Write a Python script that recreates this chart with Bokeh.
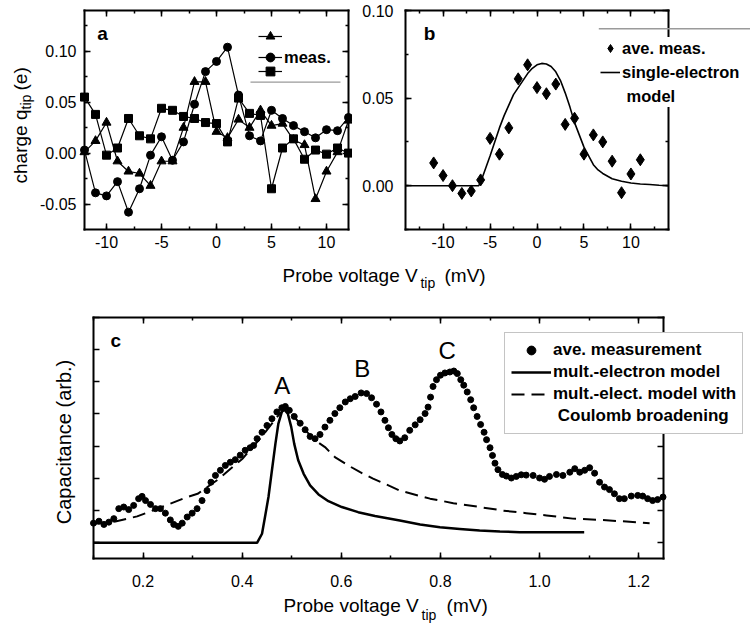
from bokeh.plotting import figure
from bokeh.models import (Range1d, LinearAxis, SingleIntervalTicker, NumeralTickFormatter,
                          CustomJSTickFormatter, Label, Legend, LegendItem)
from bokeh.layouts import row, column
from bokeh.embed import file_html
from bokeh.resources import INLINE
from bokeh.core.properties import value

FONT = "Liberation Sans"

# ---------------- data: panel a ----------------
a_x = list(range(-12, 13))
a_tri = [0.001, 0.012, 0.030, -0.008, -0.018, -0.020, -0.032, -0.008, -0.008, 0.025, 0.070, 0.070,
         0.021, 0.015, 0.033, 0.025, 0.042, 0.027, 0.029, 0.013, 0.008, -0.045, -0.018, 0.001, 0.032]
a_circ = [0.003, -0.039, -0.042, -0.028, -0.058, -0.035, -0.002, 0.016, -0.007, 0.011, 0.048, 0.080,
          0.090, 0.104, 0.057, 0.017, 0.012, 0.042, 0.034, 0.027, 0.021, 0.015, 0.023, 0.022, 0.035]
a_sq = [0.055, 0.038, -0.002, 0.005, 0.034, 0.017, 0.014, 0.044, 0.042, 0.036, 0.034, 0.030,
        0.029, 0.011, 0.054, 0.039, 0.037, -0.035, 0.005, 0.014, -0.006, 0.003, -0.001, 0.005, 0.000]

# ---------------- data: panel b ----------------
b_x = list(range(-11, 12))
b_meas = [0.013, 0.0058, 0.000, -0.0044, -0.003, 0.0033, 0.027, 0.018, 0.033, 0.061, 0.069, 0.056,
          0.0525, 0.058, 0.035, 0.0385, 0.018, 0.029, 0.025, 0.014, -0.004, 0.0067, 0.0148]
b_model_x = [-14, -6.2, -5.8, -5.4, -5.0, -4.5, -4.0, -3.5, -3.0, -2.5, -2.0, -1.5, -1.0, -0.5, 0.0,
             0.5, 1.0, 1.5, 2.0, 2.5, 3.0, 3.5, 4.0, 4.5, 5.0, 5.5, 6.0, 6.5, 7.0, 8.0, 9.0, 10.0,
             11.0, 12.0, 13.0, 14.0]
b_model_y = [0.0, 0.0, 0.005, 0.011, 0.017, 0.025, 0.033, 0.040, 0.046, 0.052, 0.056, 0.060, 0.064,
             0.067, 0.069, 0.0698, 0.0695, 0.068, 0.065, 0.060, 0.053, 0.045, 0.036, 0.029, 0.022,
             0.017, 0.012, 0.009, 0.007, 0.004, 0.0025, 0.0015, 0.001, 0.0007, 0.0003, 0.0]

# ---------------- data: panel c ----------------
c_meas_x = [0.100, 0.111, 0.121, 0.131, 0.141, 0.151, 0.161, 0.171, 0.181, 0.191, 0.198, 0.205,
            0.215, 0.225, 0.235, 0.245, 0.255, 0.262, 0.271, 0.279, 0.289, 0.299, 0.309, 0.319,
            0.329, 0.337, 0.346, 0.356, 0.366, 0.376, 0.386, 0.396, 0.406, 0.416, 0.423, 0.430,
            0.440, 0.450, 0.460, 0.470, 0.480, 0.487, 0.495, 0.505, 0.517, 0.527, 0.537, 0.547,
            0.557, 0.567, 0.577, 0.587, 0.597, 0.608, 0.618, 0.628, 0.640, 0.651, 0.661, 0.671,
            0.680, 0.688, 0.695, 0.702, 0.710, 0.718, 0.728, 0.738, 0.749, 0.759, 0.769, 0.775,
            0.780, 0.785, 0.792, 0.800, 0.809, 0.819, 0.827, 0.834, 0.841, 0.847, 0.854, 0.861,
            0.867, 0.874, 0.881, 0.888, 0.893, 0.900, 0.905, 0.910, 0.916, 0.925, 0.933, 0.943,
            0.953, 0.963, 0.973, 0.987, 1.000, 1.010, 1.020, 1.034, 1.047, 1.061, 1.071, 1.081,
            1.091, 1.101, 1.111, 1.121, 1.131, 1.141, 1.151, 1.161, 1.171, 1.185, 1.198, 1.208,
            1.218, 1.228, 1.238, 1.249]
c_meas_y = [0.61, 0.67, 0.57, 0.64, 0.75, 1.06, 1.11, 1.03, 1.16, 1.37, 1.44, 1.31,
            1.19, 1.06, 1.06, 0.92, 0.71, 0.57, 0.51, 0.61, 0.80, 0.92, 1.06, 1.31,
            1.62, 1.88, 2.09, 2.25, 2.40, 2.50, 2.58, 2.72, 2.87, 2.95, 3.02, 3.23,
            3.43, 3.64, 3.85, 4.06, 4.19, 4.23, 4.11, 3.92, 3.71, 3.51, 3.30, 3.23,
            3.36, 3.59, 3.80, 4.01, 4.19, 4.37, 4.47, 4.54, 4.65, 4.63, 4.50, 4.30,
            4.06, 3.80, 3.57, 3.36, 3.23, 3.16, 3.26, 3.49, 3.66, 3.82, 4.01, 4.21,
            4.52, 4.85, 5.06, 5.20, 5.27, 5.30, 5.33, 5.25, 5.06, 4.89, 4.68, 4.44,
            4.19, 3.92, 3.67, 3.43, 3.20, 2.95, 2.71, 2.47, 2.27, 2.12, 2.07, 2.01,
            2.06, 2.11, 2.10, 2.09, 2.01, 1.97, 2.06, 2.12, 2.09, 2.19, 2.30, 2.19,
            2.25, 2.33, 2.16, 1.88, 1.73, 1.65, 1.52, 1.37, 1.37, 1.45, 1.47, 1.45,
            1.37, 1.31, 1.34, 1.42]
c_mult_x = [0.100, 0.430, 0.440, 0.446, 0.453, 0.460, 0.467, 0.473, 0.480, 0.485, 0.492, 0.499,
            0.505, 0.513, 0.524, 0.537, 0.554, 0.574, 0.601, 0.634, 0.668, 0.718, 0.759, 0.799,
            0.839, 0.879, 0.920, 0.960, 1.000, 1.090]
c_mult_y = [0.0, 0.0, 0.28, 0.80, 1.42, 2.25, 3.07, 3.70, 4.06, 4.13, 4.01, 3.59,
            3.07, 2.56, 2.14, 1.78, 1.50, 1.29, 1.11, 0.95, 0.83, 0.69, 0.57, 0.48,
            0.43, 0.38, 0.35, 0.33, 0.33, 0.33]
c_coul_x = [0.100, 0.144, 0.188, 0.238, 0.289, 0.310, 0.350, 0.400, 0.440, 0.470, 0.485, 0.500,
            0.530, 0.550, 0.567, 0.587, 0.614, 0.638, 0.664, 0.688, 0.718, 0.779, 0.826, 0.879,
            0.926, 0.973, 1.014, 1.067, 1.121, 1.175, 1.222]
c_coul_y = [0.59, 0.66, 0.82, 1.11, 1.42, 1.52, 1.95, 2.60, 3.30, 3.90, 4.15, 4.00,
            3.45, 3.15, 2.97, 2.66, 2.40, 2.19, 1.99, 1.83, 1.62, 1.37, 1.23, 1.11,
            1.00, 0.92, 0.85, 0.75, 0.71, 0.66, 0.61]

# axis extents of each panel's plot box
A_X, A_Y = (-12, 12), (-0.075, 0.14)
B_X, B_Y = (-14, 14), (-0.025, 0.10)
C_X, C_Y = (0.1, 1.25), (-0.478, 7.0)


def mk_axis(interval, minor, fmt, standoff, fixed, bounds, labels=True):
    ax = LinearAxis(ticker=SingleIntervalTicker(interval=interval, num_minor_ticks=minor),
                    fixed_location=fixed, bounds=bounds)
    if labels:
        ax.formatter = NumeralTickFormatter(format=fmt)
        ax.major_label_text_font_size = "16px"
    else:
        ax.formatter = CustomJSTickFormatter(code="return ''")
        ax.major_label_text_font_size = "1px"
    ax.major_label_text_font = FONT
    ax.major_label_text_color = "black"
    ax.major_label_standoff = standoff
    ax.axis_line_width = 2
    ax.axis_line_color = "black"
    ax.axis_line_cap = "square"
    ax.major_tick_in = 6
    ax.major_tick_out = 0
    ax.minor_tick_in = 3
    ax.minor_tick_out = 0
    ax.major_tick_line_width = 1.5
    ax.minor_tick_line_width = 1.5
    ax.major_tick_line_color = "black"
    ax.minor_tick_line_color = "black" if minor > 0 else None
    return ax


def base_fig(w, h, xr, yr):
    p = figure(width=w, height=h, x_range=Range1d(*xr), y_range=Range1d(*yr),
               x_axis_type=None, y_axis_type=None, toolbar_location=None,
               output_backend="svg", min_border_left=0, min_border_right=0,
               min_border_top=0, min_border_bottom=0)
    p.outline_line_color = None
    p.background_fill_color = "white"
    p.border_fill_color = "white"
    return p


def add_box_axes(p, bx, by, xi, xm, xf, xs, yi, ym, yf, ys, ylabels=True):
    p.add_layout(mk_axis(xi, xm, xf, xs, by[0], bx), "below")
    p.add_layout(mk_axis(xi, xm, xf, 0, by[1], bx, labels=False), "above")
    p.add_layout(mk_axis(yi, ym, yf, ys, bx[0], by, labels=ylabels), "left")
    p.add_layout(mk_axis(yi, ym, yf, 0, bx[1], by, labels=False), "right")


def lab(p, x, y, text, size, align="left", angle=0.0, bold=False):
    p.add_layout(Label(x=x, y=y, text=text, text_font=FONT, text_font_size=size,
                       text_font_style="bold" if bold else "normal", text_color="black",
                       text_align=align, text_baseline="middle", angle=angle))


def mk_legend(items, loc, gw, gh, lh, pad, spacing, fs, bg_alpha, border=None):
    return Legend(items=items, location=loc, orientation="vertical",
                  glyph_width=gw, glyph_height=gh, label_height=lh, label_width=10,
                  label_standoff=2, padding=pad, spacing=spacing, margin=0,
                  label_text_font=FONT, label_text_font_size=fs, label_text_font_style="bold",
                  label_text_color="black",
                  background_fill_color="white", background_fill_alpha=bg_alpha,
                  border_line_color=border, border_line_width=1.5)


HALF_PI = 1.5707963267948966

# ================= panel a =================
pa = base_fig(352, 254, (-19.6364, 12.3636), (-0.09954, 0.14982))
add_box_axes(pa, A_X, A_Y, 5, 2, "0", 6, 0.05, 2, "0.00", 8)

la_t = pa.line(a_x, a_tri, line_color="black", line_width=1.2)
sa_t = pa.scatter(a_x, a_tri, marker="triangle", size=9, color="black")
la_c = pa.line(a_x, a_circ, line_color="black", line_width=1.2)
sa_c = pa.scatter(a_x, a_circ, marker="circle", size=8, color="black")
la_s = pa.line(a_x, a_sq, line_color="black", line_width=1.2)
sa_s = pa.scatter(a_x, a_sq, marker="square", size=8, color="black")

for rs, txt, vy in [([la_t, sa_t], " ", 207.3), ([la_c, sa_c], "meas.", 185.7),
                    ([la_s, sa_s], " ", 172.3)]:
    pa.add_layout(mk_legend([LegendItem(label=value(txt), renderers=rs)], (258, vy),
                            24, 22, 22, 0, 0, "16.5px", 0.0))
# grey rule under the legend (decoration)
pa.segment(x0=[3.09], y0=[0.0696], x1=[11.27], y1=[0.0696], line_color="#9a9a9a", line_width=1.2)

lab(pa, -10.845, 0.1174, "a", "19px", bold=True)
lab(pa, -17.818, -0.0298, "charge q", "19px", angle=HALF_PI)
lab(pa, -17.318, 0.0428, "tip", "14px", angle=HALF_PI)
lab(pa, -17.818, 0.0615, "(e)", "19px", angle=HALF_PI)

# ================= panel b =================
pb = base_fig(398, 254, (-19.6426, 22.730), (-0.039269, 0.105708))
add_box_axes(pb, B_X, B_Y, 5, 2, "0", 6, 0.05, 2, "0.00", 12)

sb = pb.scatter(b_x, b_meas, marker="diamond", size=12, color="black")
lb = pb.line(b_model_x, b_model_y, line_color="black", line_width=1.6)
lb_dummy = pb.line([], [], line_alpha=0)
pb.add_layout(mk_legend([LegendItem(label=value("ave. meas."), renderers=[sb]),
                         LegendItem(label=value("single-electron"), renderers=[lb]),
                         LegendItem(label=value("\u00a0model"), renderers=[lb_dummy])],
                        (248, 147.0), 20, 22, 22, 8, 2, "16.5px", 1.0))
# grey rule on top of the legend box (decoration, drawn above the legend)
pb.segment(x0=[6.58], y0=[0.08955], x1=[22.7], y1=[0.08955], line_color="#9a9a9a",
           line_width=1.5, level="overlay")
lab(pb, -12.052, 0.08687, "b", "19px", bold=True)

# ================= panel c =================
pc = base_fig(750, 371, (-0.08763, 1.42553), (-2.5662, 8.9455))
add_box_axes(pc, C_X, C_Y, 0.2, 2, "0.0", 17, 1, 0, "0", 0, ylabels=False)

lc_coul = pc.line(c_coul_x, c_coul_y, line_color="black", line_width=2, line_dash="13 7")
lc_mult = pc.line(c_mult_x, c_mult_y, line_color="black", line_width=2.5)
sc_meas = pc.scatter(c_meas_x, c_meas_y, marker="circle", size=6, color="black")
lc_dummy = pc.line([], [], line_alpha=0)
pc.add_layout(mk_legend([LegendItem(label=value("ave. measurement"), renderers=[sc_meas]),
                         LegendItem(label=value("mult.-electron model"), renderers=[lc_mult]),
                         LegendItem(label=value("mult.-elect. model with"), renderers=[lc_coul]),
                         LegendItem(label=value("\u00a0Coulomb broadening"), renderers=[lc_dummy])],
                        (504, 191), 40, 22, 22, 6, 0, "17px", 1.0, border="#8a8a8a"))

lab(pc, 0.1343, 6.2777, "c", "19px", bold=True)
lab(pc, 0.4807, 4.8807, "A", "24px", align="center")
lab(pc, 0.6421, 5.3989, "B", "24px", align="center")
lab(pc, 0.8136, 5.9667, "C", "24px", align="center")
lab(pc, 0.0395, 3.1276, "Capacitance (arb.)", "20px", align="center", angle=HALF_PI)
# x label of panel c
lab(pc, 0.4833, -1.9456, "Probe voltage V", "19px")
lab(pc, 0.7618, -2.2249, "tip", "14px")
lab(pc, 0.8123, -1.9456, "(mV)", "19px")
# shared x label of panels a and b (in the top strip of panel c's canvas)
lab(pc, 0.4813, 8.2939, "Probe voltage V", "19px")
lab(pc, 0.7597, 8.0457, "tip", "14px")
lab(pc, 0.8082, 8.2939, "(mV)", "19px")

layout = column(row(pa, pb), pc)
open("out.html", "w").write(file_html(layout, INLINE))
